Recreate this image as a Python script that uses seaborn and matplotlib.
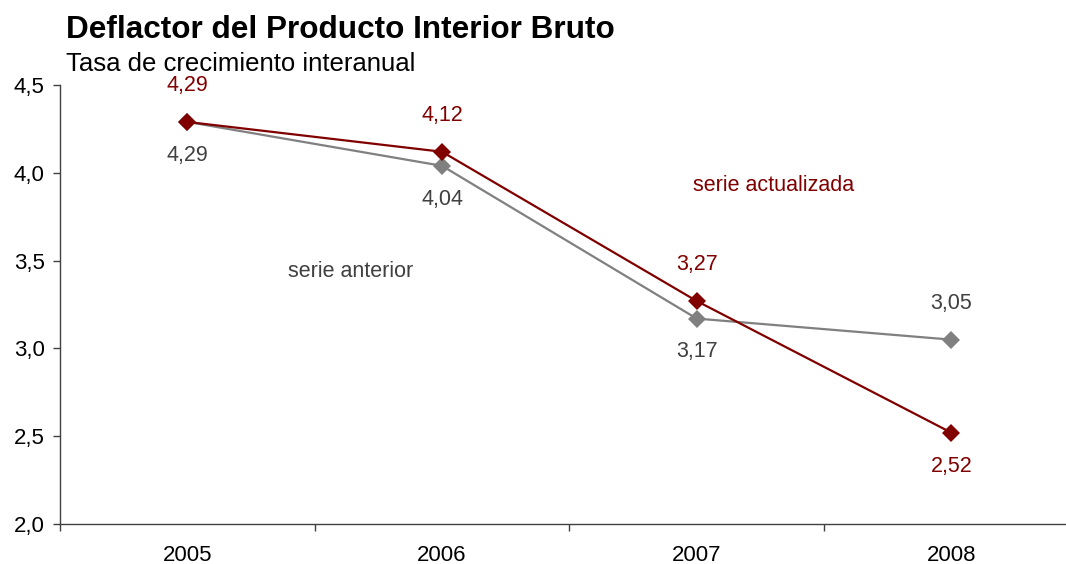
import numpy as np
import pandas as pd
import seaborn as sns
import matplotlib.pyplot as plt
from matplotlib.ticker import FuncFormatter

years = ['2005', '2006', '2007', '2008']
serie_anterior = [4.29, 4.04, 3.17, 3.05]
serie_actualizada = [4.29, 4.12, 3.27, 2.52]

red = '#800000'
gray = '#808080'
gray_text = '#404040'

df = pd.DataFrame({
    'year': years * 2,
    'value': serie_anterior + serie_actualizada,
    'serie': ['anterior'] * 4 + ['actualizada'] * 4,
})
df['pos'] = list(range(4)) * 2

sns.set_style('white')
plt.rcParams['font.family'] = ['Liberation Sans', 'DejaVu Sans']
plt.rcParams['text.color'] = 'black'
plt.rcParams['xtick.color'] = 'black'
plt.rcParams['ytick.color'] = 'black'

fig = plt.figure(figsize=(10.66, 5.64), dpi=100)
ax = fig.add_axes([0.0563, 0.0709, 0.9437, 0.7783])

sns.lineplot(data=df, x='pos', y='value', hue='serie', hue_order=['anterior', 'actualizada'],
             palette={'anterior': gray, 'actualizada': red}, marker='D', markersize=9.5,
             markeredgewidth=0, linewidth=1.6, legend=False, ax=ax)

# data labels: updated series in red, previous series in dark gray
above_red = [True, True, True, False]
for i, (a, b) in enumerate(zip(serie_anterior, serie_actualizada)):
    off_r = 26 if above_red[i] else -24
    off_g = 26 if i == 3 else -24
    ax.annotate(f'{b:.2f}'.replace('.', ','), (i, b), xytext=(0, off_r), textcoords='offset points',
                ha='center', va='center', color=red, fontsize=15.5)
    ax.annotate(f'{a:.2f}'.replace('.', ','), (i, a), xytext=(0, off_g), textcoords='offset points',
                ha='center', va='center', color=gray_text, fontsize=15.5)

ax.text(0.64, 3.44, 'serie anterior', color=gray_text, fontsize=15.5, ha='center', va='center')
ax.text(2.3, 3.93, 'serie actualizada', color=red, fontsize=15.5, ha='center', va='center')

ax.set_xlim(-0.5, 3.45)
ax.set_ylim(2.0, 4.5)
ax.set_yticks([2.0, 2.5, 3.0, 3.5, 4.0, 4.5])
ax.yaxis.set_major_formatter(FuncFormatter(lambda v, p: f'{v:.1f}'.replace('.', ',')))
ax.set_xticks(range(4))
ax.set_xticklabels(years)
ax.set_xticks([-0.5, 0.5, 1.5, 2.5], minor=True)
ax.tick_params(axis='x', which='major', bottom=True, length=0, pad=15, labelsize=16)
ax.tick_params(axis='x', which='minor', bottom=True, length=5, width=1, color='#404040', direction='out')
ax.tick_params(axis='y', left=True, length=5, width=1, color='#404040', direction='out', labelsize=16, pad=6)
ax.set_xlabel('')
ax.set_ylabel('')

for s in ['top', 'right']:
    ax.spines[s].set_visible(False)
for s in ['left', 'bottom']:
    ax.spines[s].set_color('#404040')
    ax.spines[s].set_linewidth(1)

fig.text(0.062, 0.947, 'Deflactor del Producto Interior Bruto', fontsize=22.7, fontweight='bold',
         ha='left', va='center')
fig.text(0.062, 0.887, 'Tasa de crecimiento interanual', fontsize=18.5, ha='left', va='center')

fig.savefig('out.png', dpi=100)
